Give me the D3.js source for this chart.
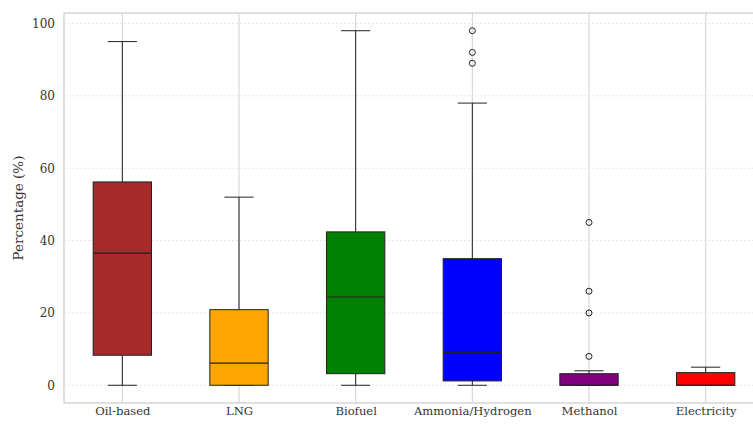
<!DOCTYPE html>
<html>
<head>
<meta charset="utf-8">
<script src="https://cdn.jsdelivr.net/npm/d3@7"></script>
<style>
  body { margin: 0; background: #fff; }
  svg { display: block; font-family: "DejaVu Serif", serif; }
  .tick text { fill: #333; }
</style>
</head>
<body>
<svg width="753" height="425"></svg>
<script>
  "use strict";

  // box statistics
  const categories = ["Oil-based", "LNG", "Biofuel", "Ammonia/Hydrogen", "Methanol", "Electricity"];
  const colors = ["#a52a2a", "#ffa500", "#008000", "#0000ff", "#800080", "#ff0000"];
  const whiskerLow = [0, 0, 0, 0, 0, 0];
  const q1 = [8.3, 0, 3.2, 1.2, 0, 0];
  const medians = [36.5, 6.1, 24.4, 9.1, 0, 0];
  const q3 = [56.2, 20.9, 42.4, 35, 3.2, 3.5];
  const whiskerHigh = [95, 52, 98, 78, 4, 5];
  const outliers = [[], [], [], [98, 92, 89], [45, 26, 20, 8], []];
  const yTicks = [0, 20, 40, 60, 80, 100];

  const data = categories.map((c, i) => ({
    name: c, color: colors[i], lo: whiskerLow[i], q1: q1[i], med: medians[i],
    q3: q3[i], hi: whiskerHigh[i], out: outliers[i]
  }));

  const svg = d3.select("svg");
  const margin = { top: 13, right: -11, bottom: 22, left: 64 };
  const width = +svg.attr("width");
  const height = +svg.attr("height");
  const innerWidth = width - margin.left - margin.right;
  const innerHeight = height - margin.top - margin.bottom;

  // matplotlib style: positions 1..n, xlim 0.5..n+0.5
  const xScale = d3.scaleLinear().domain([0.5, categories.length + 0.5]).range([0, innerWidth]);
  const yScale = d3.scaleLinear().domain([-4.9, 102.9]).range([innerHeight, 0]);
  const unit = xScale(2) - xScale(1);
  const boxW = unit * 0.5;
  const capW = unit * 0.25;

  const g = svg.append("g").attr("transform", `translate(${margin.left},${margin.top})`);

  // horizontal grid (faint dotted)
  g.append("g")
    .selectAll("line")
    .data(yTicks)
    .join("line")
    .attr("x1", 0).attr("x2", innerWidth)
    .attr("y1", (d) => yScale(d)).attr("y2", (d) => yScale(d))
    .attr("stroke", "#e6e6e6").attr("stroke-width", 1).attr("stroke-dasharray", "2,2");

  // vertical grid
  g.append("g")
    .selectAll("line")
    .data(categories)
    .join("line")
    .attr("x1", (d, i) => xScale(i + 1)).attr("x2", (d, i) => xScale(i + 1))
    .attr("y1", 0).attr("y2", innerHeight)
    .attr("stroke", "#d9d9d9").attr("stroke-width", 1.2);

  // axes
  const yAxis = d3.axisLeft(yScale).tickValues(yTicks).tickSize(0).tickPadding(9);
  const yAxisG = g.append("g").call(yAxis);
  yAxisG.select(".domain").remove();
  yAxisG.selectAll("text").attr("font-size", 12).attr("font-family", "DejaVu Serif");

  const xAxis = d3.axisBottom(xScale)
    .tickValues(d3.range(1, categories.length + 1))
    .tickFormat((d) => categories[d - 1])
    .tickSize(0).tickPadding(4);
  const xAxisG = g.append("g").attr("transform", `translate(0,${innerHeight})`).call(xAxis);
  xAxisG.select(".domain").remove();
  xAxisG.selectAll("text").attr("font-size", 11.6).attr("font-family", "DejaVu Serif");

  // frame
  g.append("rect")
    .attr("x", 0).attr("y", 0).attr("width", innerWidth).attr("height", innerHeight)
    .attr("fill", "none").attr("stroke", "#cccccc").attr("stroke-width", 1.2);

  // boxes
  const boxes = g.append("g").selectAll("g").data(data).join("g")
    .attr("transform", (d, i) => `translate(${xScale(i + 1)},0)`);

  boxes.append("line")
    .attr("y1", (d) => yScale(d.q3)).attr("y2", (d) => yScale(d.hi))
    .attr("stroke", "#222").attr("stroke-width", 1);
  boxes.append("line")
    .attr("y1", (d) => yScale(d.q1)).attr("y2", (d) => yScale(d.lo))
    .attr("stroke", "#222").attr("stroke-width", 1);
  boxes.append("line")
    .attr("x1", -capW / 2).attr("x2", capW / 2)
    .attr("y1", (d) => yScale(d.hi)).attr("y2", (d) => yScale(d.hi))
    .attr("stroke", "#222").attr("stroke-width", 1);
  boxes.append("line")
    .attr("x1", -capW / 2).attr("x2", capW / 2)
    .attr("y1", (d) => yScale(d.lo)).attr("y2", (d) => yScale(d.lo))
    .attr("stroke", "#222").attr("stroke-width", 1);

  boxes.append("rect")
    .attr("x", -boxW / 2).attr("width", boxW)
    .attr("y", (d) => yScale(d.q3))
    .attr("height", (d) => yScale(d.q1) - yScale(d.q3))
    .attr("fill", (d) => d.color)
    .attr("stroke", "#222").attr("stroke-width", 1);

  boxes.append("line")
    .attr("x1", -boxW / 2).attr("x2", boxW / 2)
    .attr("y1", (d) => yScale(d.med)).attr("y2", (d) => yScale(d.med))
    .attr("stroke", "#222").attr("stroke-width", 1.2);

  boxes.selectAll("circle").data((d) => d.out).join("circle")
    .attr("cx", 0).attr("cy", (v) => yScale(v)).attr("r", 3)
    .attr("fill", "none").attr("stroke", "#222").attr("stroke-width", 1);

  // y label
  svg.append("text")
    .attr("transform", `translate(23,${margin.top + innerHeight / 2}) rotate(-90)`)
    .attr("text-anchor", "middle")
    .attr("font-size", 13.5)
    .attr("fill", "#333")
    .text("Percentage (%)");
</script>
</body>
</html>
